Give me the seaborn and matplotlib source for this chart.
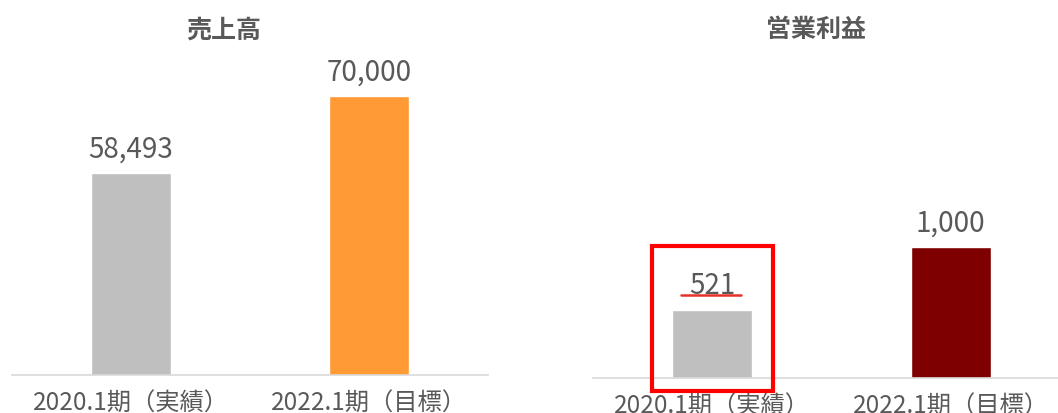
import matplotlib
matplotlib.use("Agg")
import matplotlib.pyplot as plt
import matplotlib.patches as mpatches
import seaborn as sns
import pandas as pd

periodos = ["2020.1期（実績）", "2022.1期（目標）"]
ventas = [58493, 70000]
beneficio = [521, 1000]

colores_ventas = ["#bfbfbf", "#ff9a35"]
colores_beneficio = ["#bfbfbf", "#7f0000"]

sns.set_theme(style="white")
plt.rcParams["font.family"] = ["Noto Sans CJK JP", "DejaVu Sans"]

gris = "#595959"

fig = plt.figure(figsize=(10.58, 4.13), dpi=100)
ax1 = fig.add_axes([12 / 1058, 38 / 413, 476 / 1058, 315 / 413])
ax2 = fig.add_axes([593 / 1058, 35 / 413, 465 / 1058, 318 / 413])

df1 = pd.DataFrame({"periodo": periodos, "valor": ventas})
df2 = pd.DataFrame({"periodo": periodos, "valor": beneficio})

sns.barplot(data=df1, x="periodo", y="valor", hue="periodo", palette=colores_ventas,
            width=0.336, ax=ax1, legend=False, saturation=1)
sns.barplot(data=df2, x="periodo", y="valor", hue="periodo", palette=colores_beneficio,
            width=0.336, ax=ax2, legend=False, saturation=1)

ax1.set_xlim(-0.5, 1.5)
ax1.set_ylim(28300, 75400)
ax2.set_xlim(-0.5, 1.45)
ax2.set_ylim(0, 2427)

titulos = ["売上高", "営業利益"]
titulo_x = [0.445, 0.48]
for ax, titulo, tx in zip([ax1, ax2], titulos, titulo_x):
    for c in ax.containers:
        ax.bar_label(c, labels=[f"{v:,.0f}" for v in c.datavalues], padding=6,
                     fontsize=20, color=gris)
    ax.set_xlabel("")
    ax.set_ylabel("")
    ax.set_yticks([])
    ax.tick_params(axis="x", length=0, pad=11, labelsize=17.5, labelcolor=gris)
    for s in ["top", "left", "right"]:
        ax.spines[s].set_visible(False)
    ax.spines["bottom"].set_color("#d9d9d9")
    ax.spines["bottom"].set_linewidth(1.2)
    ax.text(tx, 1.094, titulo, transform=ax.transAxes, ha="center", va="center",
            fontsize=18, fontweight="bold", color=gris)

# recuadro rojo y subrayado sobre 521
barra = ax2.patches[0]
x0 = barra.get_x() - 0.085
ancho = barra.get_width() + 0.17
rect = mpatches.Rectangle((x0, -99), ancho, 1107, fill=False, edgecolor="#ff0000",
                          linewidth=3, clip_on=False, zorder=5)
ax2.add_patch(rect)
ax2.plot([-0.13, 0.122], [634, 634], color="#e8302a", linewidth=1.8, clip_on=False, zorder=5)

fig.savefig("out.png", dpi=100)
